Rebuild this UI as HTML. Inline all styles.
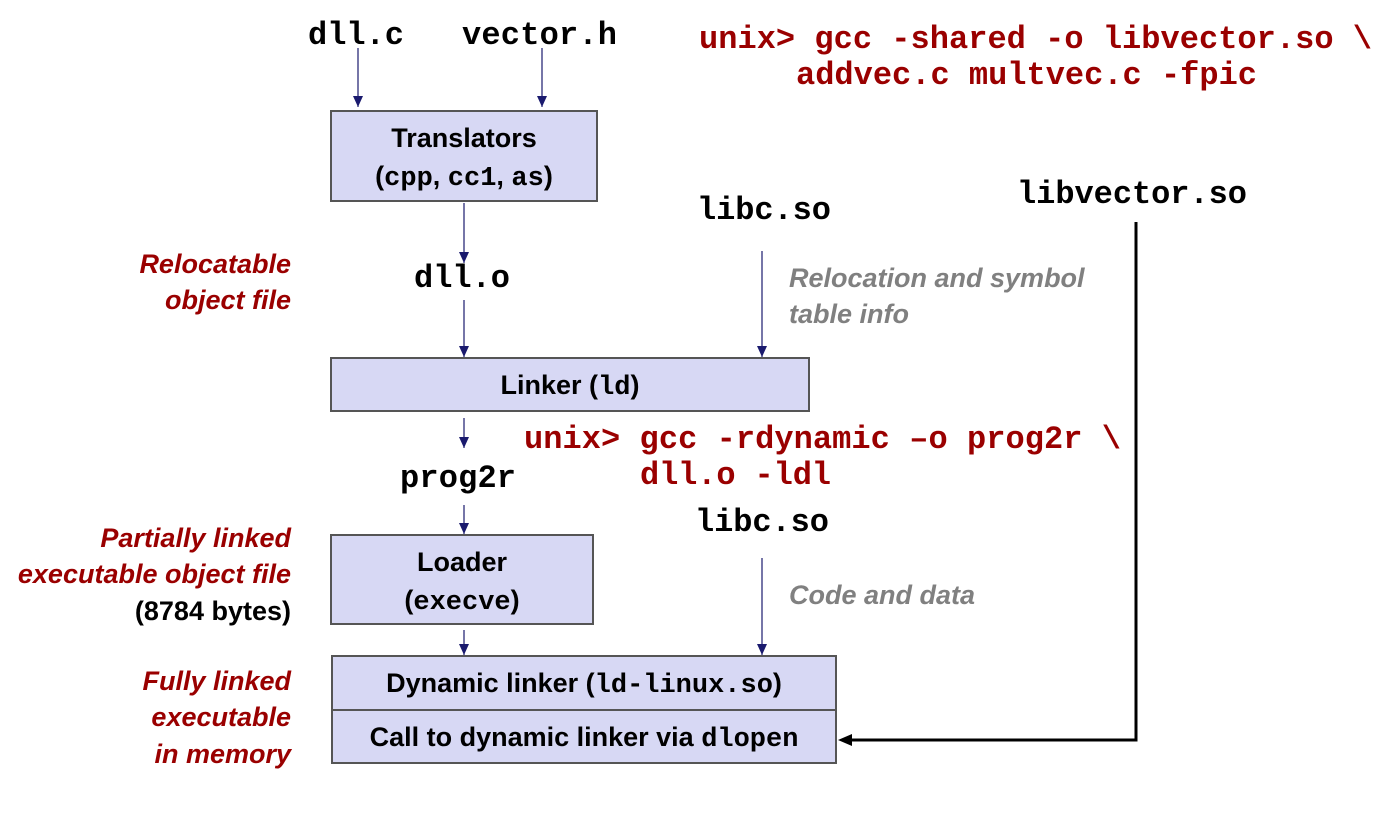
<!DOCTYPE html>
<html><head><meta charset="utf-8"><style>
html,body{margin:0;padding:0;background:#fff;}
svg{display:block}
.m{font-family:"Liberation Mono",monospace;font-weight:bold;font-size:32px;fill:#000}
.r{fill:#9a0000}
.s{font-family:"Liberation Sans",sans-serif;font-weight:bold;font-size:27px;fill:#000}
.li{font-family:"Liberation Sans",sans-serif;font-weight:bold;font-style:italic;font-size:27px;fill:#9a0000}
.gi{font-family:"Liberation Sans",sans-serif;font-weight:bold;font-style:italic;font-size:27px;fill:#808080}
.bm{font-family:"Liberation Mono",monospace;font-weight:bold}
</style></head><body>
<svg width="1377" height="831" viewBox="0 0 1377 831" xmlns="http://www.w3.org/2000/svg">
<defs>
<marker id="a" markerWidth="12" markerHeight="12" refX="11" refY="5" orient="auto" markerUnits="userSpaceOnUse">
<path d="M0,0 L11,5 L0,10 Z" fill="#1a1a6e"/></marker>
</defs>
<g fill="#d7d8f4" stroke="#555" stroke-width="2">
<rect x="331" y="111" width="266" height="90"/>
<rect x="331" y="358" width="478" height="53"/>
<rect x="331" y="535" width="262" height="89"/>
<rect x="332" y="656" width="504" height="54"/>
<rect x="332" y="710" width="504" height="53"/>
</g>
<g stroke="#1a1a6e" stroke-width="1.2" marker-end="url(#a)">
<line x1="358" y1="48" x2="358" y2="107"/>
<line x1="542" y1="48" x2="542" y2="107"/>
<line x1="464" y1="203" x2="464" y2="263"/>
<line x1="464" y1="300" x2="464" y2="357"/>
<line x1="762" y1="251" x2="762" y2="357"/>
<line x1="464" y1="418" x2="464" y2="448"/>
<line x1="464" y1="505" x2="464" y2="534"/>
<line x1="464" y1="630" x2="464" y2="655"/>
<line x1="762" y1="558" x2="762" y2="655"/>
</g>
<path d="M1136,222 L1136,740 L850,740" fill="none" stroke="#000" stroke-width="3"/>
<path d="M838,740 L852,734 L852,746 Z" fill="#000"/>

<text class="m" x="308" y="44" textLength="96">dll.c</text>
<text class="m" x="462" y="44" textLength="155">vector.h</text>
<text class="m r" x="699" y="48" textLength="673">unix&gt; gcc -shared -o libvector.so \</text>
<text class="m r" x="796" y="84" textLength="461">addvec.c multvec.c -fpic</text>
<text class="m" x="1017" y="203" textLength="230">libvector.so</text>
<text class="m" x="697" y="219" textLength="134">libc.so</text>
<text class="m" x="414" y="287" textLength="96">dll.o</text>
<text class="m r" x="524" y="448" textLength="597">unix&gt; gcc -rdynamic –o prog2r \</text>
<text class="m r" x="640" y="484" textLength="191">dll.o -ldl</text>
<text class="m" x="400" y="487" textLength="116">prog2r</text>
<text class="m" x="695" y="531" textLength="134">libc.so</text>

<text class="s" x="464" y="147" text-anchor="middle">Translators</text>
<text class="s" x="464" y="185" text-anchor="middle">(<tspan class="bm">cpp</tspan>, <tspan class="bm">cc1</tspan>, <tspan class="bm">as</tspan>)</text>
<text class="s" x="570" y="394" text-anchor="middle">Linker (<tspan class="bm">ld</tspan>)</text>
<text class="s" x="462" y="571" text-anchor="middle">Loader</text>
<text class="s" x="462" y="609" text-anchor="middle">(<tspan class="bm">execve</tspan>)</text>
<text class="s" x="584" y="692" text-anchor="middle">Dynamic linker (<tspan class="bm">ld-linux.so</tspan>)</text>
<text class="s" x="584" y="746" text-anchor="middle">Call to dynamic linker via <tspan class="bm">dlopen</tspan></text>

<g text-anchor="end">
<text class="li" x="291" y="273">Relocatable</text>
<text class="li" x="291" y="309">object file</text>
<text class="li" x="291" y="547">Partially linked</text>
<text class="li" x="291" y="583">executable object file</text>
<text class="s" x="291" y="620">(8784 bytes)</text>
<text class="li" x="291" y="690">Fully linked</text>
<text class="li" x="291" y="726">executable</text>
<text class="li" x="291" y="763">in memory</text>
</g>
<text class="gi" x="789" y="287">Relocation and symbol</text>
<text class="gi" x="789" y="323">table info</text>
<text class="gi" x="789" y="604">Code and data</text>
</svg>
</body></html>
